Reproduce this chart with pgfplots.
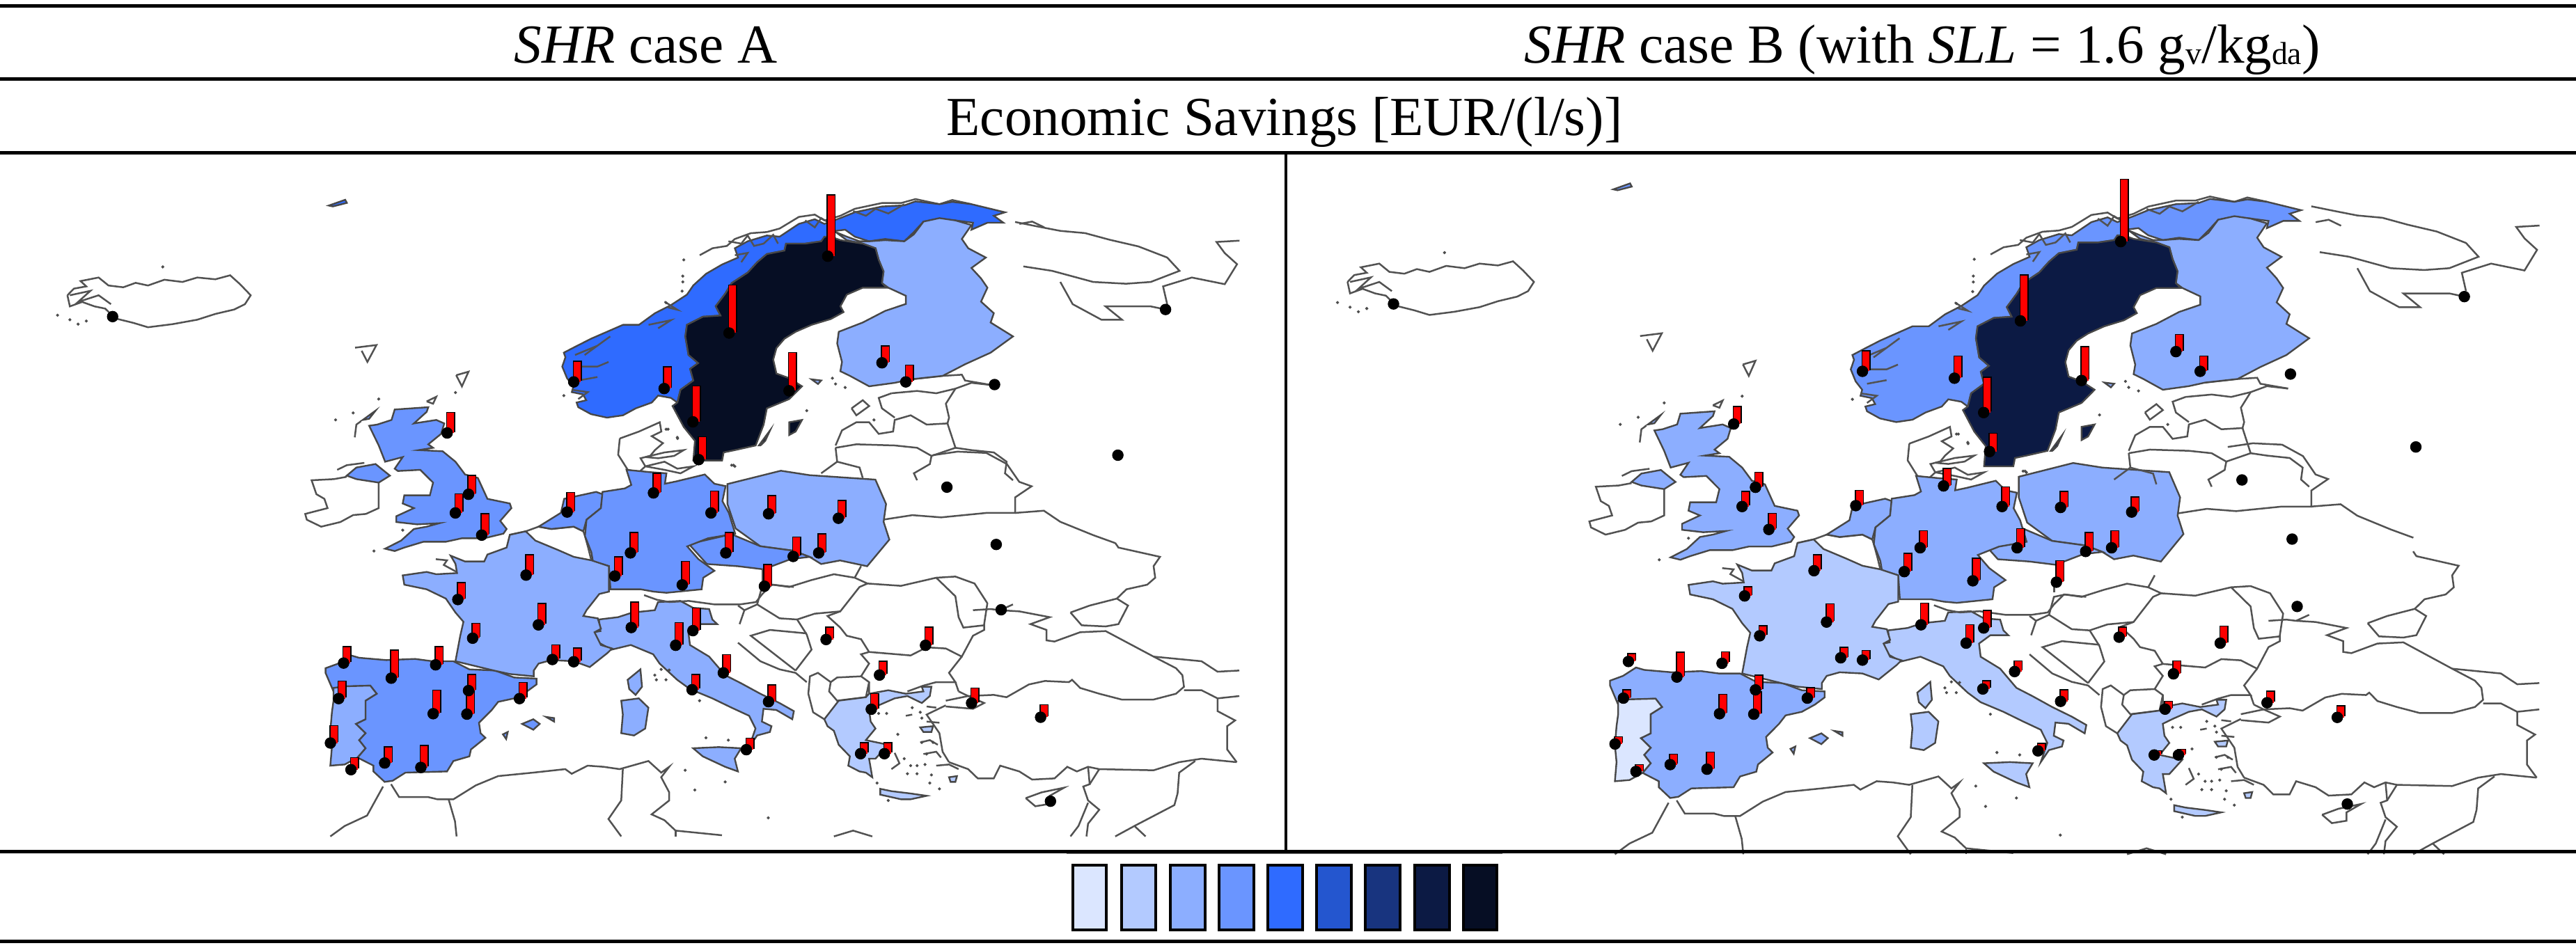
\documentclass[border=0pt]{standalone}
\usepackage{fontspec}
\setmainfont{Liberation Serif}
\usepackage{pgfplots}
\usepackage{pgfplotstable}
\pgfplotsset{compat=1.18}
\definecolor{c1}{HTML}{DBE6FF}\definecolor{c2}{HTML}{B3CAFF}\definecolor{c3}{HTML}{8CAEFF}
\definecolor{c4}{HTML}{6A95FF}\definecolor{c5}{HTML}{2F6BFF}\definecolor{c6}{HTML}{2456CF}
\definecolor{c7}{HTML}{18347F}\definecolor{c8}{HTML}{0C1A44}\definecolor{c9}{HTML}{060E24}
% panel A
\colorlet{NORa}{c5}\colorlet{SWEa}{c9}\colorlet{FINa}{c3}\colorlet{UKa}{c4}\colorlet{NEDa}{c4}\colorlet{GERa}{c4}
\colorlet{POLa}{c3}\colorlet{CZEa}{c4}\colorlet{FRAa}{c3}\colorlet{ITAa}{c3}\colorlet{SPAa}{c4}\colorlet{PORa}{c3}\colorlet{GREa}{c2}
% panel B
\colorlet{NORb}{c4}\colorlet{SWEb}{c8}\colorlet{FINb}{c3}\colorlet{UKb}{c3}\colorlet{NEDb}{c3}\colorlet{GERb}{c3}
\colorlet{POLb}{c3}\colorlet{CZEb}{c3}\colorlet{FRAb}{c2}\colorlet{ITAb}{c2}\colorlet{SPAb}{c3}\colorlet{PORb}{c1}\colorlet{GREb}{c2}
\pgfplotstableread{
x y hA hB
1007 232 137 135
887 405 107 99
960 535 85 73
843 605 80 76
850 690 50 39
808 530 48 47
698 515 45 44
1073 472 37 36
1102 515 37 32
544 630 45 37
570 768 41 32
554 810 42 32
586 860 47 34
690 808 43 32
795 765 43 37
865 810 48 42
935 812 40 34
1020 822 39 32
767 900 45 36
883 900 45 41
965 908 43 40
996 900 42 36
748 952 42 39
830 972 52 48
930 975 48 46
640 950 45 34
557 1005 37 19
655 1062 47 39
575 1092 32 21
672 1140 32 22
698 1145 30 20
768 1068 56 46
843 1075 50 37
822 1108 50 39
880 1170 40 22
1005 1095 27 21
1126 1108 40 36
1070 1175 30 27
1060 1252 34 16
1182 1238 33 24
1266 1270 27 24
842 1208 33 17
935 1235 37 24
908 1343 25 15
1047 1352 24 8
1076 1352 24 11
418 1148 36 16
476 1182 62 53
530 1152 40 24
412 1228 38 17
632 1228 35 22
570 1210 35 31
527 1262 52 41
568 1263 58 48
402 1328 38 15
427 1388 26 14
468 1373 35 22
512 1383 48 36
}\pinstab
\pgfplotstableread{
x y
137 368
1418 352
1210 521
1360 680
1152 752
1212 881
1218 1028
1278 1459
}\dotstab
\newcommand\ctry[2]{\addplot[fill=#1,draw=black!72,line width=0.24mm] coordinates {#2} -- cycle;}
\newcommand\bd[1]{\addplot[draw=black!68,line width=0.25mm,mark=none] coordinates {#1};}
\newcommand\spk[1]{\addplot[only marks,mark=*,mark size=0.14mm,black!70,mark options={draw=none}] coordinates {#1};}
% ---- outlying lines and Poland / Czechia, in whole-panel units
\newcommand\mapZ[1]{%
\bd{(82,320)(90,305)(105,300)(98,288)(120,280)(132,298)(150,302)(165,292)(180,298)(200,285)(222,290)(240,280)(262,284)(280,275)(292,295)(305,320)(298,340)(285,352)(262,362)(240,375)(210,385)(180,392)(162,382)(140,372)(128,350)(115,345)(100,335)(85,345)(82,320)}
\bd{(85,320)(110,310)(95,335)(120,320)(135,340)}
\spk{(70,365)(85,375)(95,385)(105,378)(198,256)}
\bd{(1235,155)(1262,165)(1290,175)(1320,180)(1350,195)(1385,210)(1420,235)(1435,265)(1400,290)(1370,294)(1330,290)(1280,265)(1245,255)}
\bd{(1290,290)(1305,340)(1340,375)(1365,375)(1345,345)(1400,345)(1418,352)}
\bd{(1420,340)(1415,300)(1450,280)(1490,295)(1505,250)(1490,225)(1480,200)(1508,197)}
\bd{(1135,680)(1165,672)(1200,675)(1225,700)(1240,740)(1255,750)(1235,775)(1235,810)(1200,810)(1145,820)(1110,815)(1075,825)}
\bd{(1235,810)(1270,805)(1290,830)(1330,860)(1357,878)}
\bd{(432,438)(458,432)(447,470)(440,445)}
\bd{(555,500)(570,492)(562,525)(555,500)}
\ctry{NOR#1}{(400,118)(420,105)(422,112)(405,120)}
\ctry{POL#1}{(885,745)(950,715)(985,725)(1065,735)(1078,790)(1075,830)(1082,870)(1055,930)(1022,917)(999,925)(985,909)(965,895)(925,885)(895,845)(885,790)}
\ctry{CZE#1}{(838,880)(890,858)(925,885)(965,895)(985,909)(962,914)(929,937)(898,930)(860,925)}
}
% ---- Scandinavia
\newcommand\mapS[1]{%
\bd{(490,350)(530,320)(575,310)(600,280)(650,255)(700,250)(740,235)(800,185)(850,175)(880,200)(930,180)(975,150)(1060,125)(1120,125)(1165,108)(1240,130)(1280,112)(1340,130)}
\bd{(240,1140)(300,1110)(365,1070)(370,1110)(340,1130)(375,1160)(350,1190)(335,1215)(305,1225)(320,1260)(300,1285)(265,1275)(235,1210)(240,1140)}
\bd{(320,1220)(380,1200)(440,1190)(410,1215)(360,1225)(320,1220)}\bd{(320,1260)(380,1240)(420,1270)(470,1260)(430,1290)(380,1275)(320,1260)}
\bd{(1150,885)(1250,870)(1310,865)(1320,890)(1405,910)}
\bd{(1090,945)(1170,935)(1230,945)(1290,925)(1340,900)(1405,910)}
\bd{(1290,925)(1260,990)(1270,1050)(1265,1075)(1200,1080)(1150,1040)(1100,1060)(1095,1110)(1050,1120)(1020,1070)(980,1070)(935,1105)(915,1170)}
\bd{(1090,945)(1050,965)(1060,1010)(1100,1050)}\bd{(965,1010)(1000,975)(1020,1000)(980,1040)(965,1010)}
\bd{(915,1180)(980,1165)(1100,1170)(1170,1180)(1215,1215)(1290,1180)(1265,1075)}
\bd{(915,1180)(920,1240)(990,1265)(1000,1310)}\bd{(920,1240)(870,1290)}
\bd{(1215,1215)(1210,1250)(1160,1290)(1170,1320)}
\bd{(1290,1180)(1340,1190)(1410,1200)(1450,1240)(1445,1290)(1470,1320)}
\bd{(1490,215)(1530,205)(1568,230)}
\spk{(440,370)(437,440)(437,465)(435,505)(385,555)(65,955)(590,1255)(600,1260)(825,1020)(385,1100)(420,1135)(905,880)(915,905)(945,920)(1035,1060)}
\ctry{NOR#1}{(200,1050)(150,1035)(110,1005)(105,985)(135,975)(125,950)(90,940)(95,915)(75,880)(60,830)(70,790)(65,770)(100,745)(150,710)(200,680)(250,650)(300,650)(350,600)(400,565)(450,520)(470,480)(510,430)(560,390)(610,360)(600,320)(640,290)(700,265)(740,270)(800,215)(850,195)(880,215)(930,190)(975,165)(1060,140)(1130,135)(1165,118)(1240,130)(1280,120)(1340,130)(1400,150)(1445,165)(1410,180)(1440,210)(1390,210)(1340,240)(1345,210)(1290,200)(1230,195)(1190,205)(1160,250)(1130,290)(1070,280)(1020,290)(975,270)(945,240)(915,245)(900,270)(870,290)(820,300)(760,300)(755,330)(700,345)(670,380)(640,425)(590,470)(570,515)(540,570)(555,610)(500,615)(450,650)(445,700)(455,780)(485,815)(460,840)(470,890)(430,930)(420,985)(400,965)(360,955)(340,985)(290,1010)(250,1040)}
\bd{(580,290)(620,300)(640,265)(660,310)(690,300)(720,262)(735,300)}
\bd{(820,200)(850,230)(870,190)(900,215)}
\bd{(970,160)(1010,180)(1040,150)(1080,170)(1130,130)}
\bd{(600,350)(640,340)(620,380)}
\bd{(100,780)(170,740)(130,780)(210,700)}
\bd{(110,830)(170,830)(205,810)}\bd{(110,890)(170,875)}\bd{(90,930)(140,940)(110,970)}
\bd{(390,575)(420,585)(380,550)}\bd{(330,650)(400,630)(360,665)}
\ctry{FIN#1}{(915,250)(950,270)(990,290)(1020,290)(1070,285)(1130,290)(1160,260)(1190,205)(1240,190)(1290,200)(1340,220)(1310,280)(1330,320)(1385,360)(1340,405)(1370,450)(1390,490)(1370,550)(1410,600)(1400,640)(1470,700)(1400,770)(1320,820)(1250,870)(1150,885)(1100,900)(1020,915)(960,870)(930,850)(935,810)(920,730)(925,680)(1000,640)(1070,590)(1135,560)(1135,525)(1080,490)(1060,470)(1065,420)(1050,370)(1040,320)(1000,300)(950,285)}
\ctry{SWE#1}{(880,270)(900,270)(930,285)(1000,300)(1040,320)(1050,370)(1065,420)(1060,470)(1075,490)(1000,490)(950,520)(930,570)(940,595)(900,625)(840,650)(790,680)(755,710)(730,750)(720,800)(730,860)(770,880)(810,915)(770,970)(700,1010)(690,1080)(665,1170)(600,1190)(565,1200)(560,1235)(470,1235)(475,1150)(440,1090)(405,1000)(420,985)(430,930)(470,890)(460,840)(485,815)(455,780)(445,700)(450,650)(500,615)(555,610)(540,570)(570,515)(590,470)(640,425)(670,380)(700,345)(755,330)(760,300)(820,300)(870,290)}
\ctry{SWE#1}{(770,1070)(810,1060)(790,1110)(770,1125)}
\ctry{SWE#1}{(675,1170)(710,1105)(695,1150)(680,1170)}
\ctry{FIN#1}{(840,885)(870,890)(860,905)}
}
% ---- British Isles, Benelux, Germany, France
\newcommand\mapW[1]{%
\bd{(140,345)(170,325)(225,315)}
\bd{(270,400)(270,510)(230,535)(190,540)(150,570)(90,590)(45,560)(40,535)(110,510)(100,470)(75,450)(60,390)(130,385)(170,375)}
\bd{(680,625)(730,610)(770,590)(810,600)(880,590)(910,610)(915,630)(925,680)(935,735)}
\bd{(1100,885)(1140,905)(1180,915)(1240,910)(1320,925)(1400,925)(1450,915)(1470,880)(1500,840)(1568,850)}
\bd{(1470,770)(1470,830)}\bd{(195,205)(200,150)(215,135)}\bd{(420,50)(450,30)(440,60)(420,50)}
\spk{(190,100)(135,130)(270,40)(510,12)(255,695)(345,605)(1175,170)(1205,210)(1380,325)}
\ctry{UK#1}{(320,85)(425,75)(420,95)(380,145)(450,130)(475,145)(465,190)(425,235)(440,250)(395,260)(470,265)(510,310)(540,365)(580,380)(610,470)(680,490)(685,510)(650,565)(670,600)(660,620)(600,640)(530,640)(480,655)(410,655)(350,680)(320,695)(290,685)(340,650)(380,600)(420,590)(460,575)(390,580)(325,570)(325,545)(380,510)(345,490)(350,455)(430,455)(440,400)(400,345)(330,350)(320,340)(345,290)(290,310)(270,240)(240,155)(265,150)(310,130)}
\ctry{UK#1}{(220,130)(260,90)(240,125)}
\ctry{UK#1}{(170,370)(200,335)(260,320)(305,370)(270,400)(200,385)}
\ctry{NED#1}{(770,590)(840,530)(850,470)(950,440)(970,450)(965,510)(920,560)(910,610)(880,590)(810,600)}
\ctry{GER#1}{(1045,345)(1120,355)(1170,360)(1165,405)(1200,395)(1290,365)(1320,405)(1355,415)(1345,480)(1365,530)(1385,620)(1300,640)(1235,675)(1270,730)(1320,780)(1285,810)(1280,860)(1170,875)(1130,870)(1090,860)(995,860)(990,760)(940,740)(935,700)(915,630)(920,560)(965,510)(970,440)(1040,425)(1060,410)}
\ctry{FRA#1}{(680,625)(730,610)(760,650)(830,690)(880,720)(935,735)(990,760)(990,870)(960,880)(920,950)(910,975)(955,985)(965,1030)(945,1045)(965,1100)(1000,1115)(985,1135)(930,1195)(880,1170)(810,1165)(770,1180)(755,1210)(755,1235)(680,1225)(630,1210)(510,1170)(525,1060)(535,1000)(510,960)(480,900)(420,860)(350,840)(345,800)(420,785)(450,795)(515,790)(510,750)(495,715)(540,740)(600,740)(610,710)(670,680)}
}
% ---- Iberia, Italy, North Africa
\newcommand\mapM[1]{%
\bd{(265,1040)(290,1095)(380,1095)(410,1105)(460,1105)(530,1045)(600,1005)(710,990)(810,975)(830,995)(880,960)(930,965)(980,975)(1070,940)(1110,990)(1135,965)(1110,1010)(1135,1075)(1135,1110)(1080,1170)(1120,1195)(1155,1240)(1300,1260)}
\bd{(240,1050)(190,1175)(120,1220)(75,1265)}\bd{(445,1105)(465,1200)(470,1265)}
\bd{(990,975)(985,1110)(945,1190)(985,1265)}\bd{(1155,1240)(1155,1265)}
\bd{(405,70)(440,75)(430,95)(470,125)}
\spk{(1090,570)(1110,545)(1095,590)(1125,590)(1135,548)(1230,680)(1250,840)(1320,850)(1185,980)(1310,1030)(1215,1065)(1445,1185)}
\ctry{SPA#1}{(60,540)(100,520)(140,485)(165,495)(250,505)(340,500)(395,510)(460,510)(510,545)(590,550)(650,580)(720,585)(720,610)(690,640)(650,670)(600,685)(580,720)(540,775)(545,820)(560,840)(515,890)(510,920)(460,940)(440,985)(310,990)(270,1025)(245,1030)(210,985)(210,960)(160,925)(185,885)(165,850)(185,820)(155,780)(185,760)(185,680)(220,650)(200,615)(115,620)(85,640)(60,560)}
\ctry{POR#1}{(85,625)(120,618)(200,615)(220,650)(185,680)(185,760)(155,780)(185,820)(165,850)(185,885)(160,925)(120,955)(75,960)(80,880)(75,810)(80,730)(85,680)}
\ctry{SPA#1}{(675,780)(710,760)(730,780)(710,805)}
\ctry{SPA#1}{(750,750)(775,755)(775,770)}
\ctry{SPA#1}{(615,825)(630,815)(625,845)}
\ctry{FRA#1}{(1005,590)(1045,545)(1050,620)(1030,655)(1010,630)}
\ctry{ITA#1}{(985,680)(1040,670)(1070,710)(1060,800)(1025,830)(985,820)(990,740)}
\ctry{ITA#1}{(915,330)(975,320)(1020,300)(1090,290)(1100,255)(1170,250)(1210,280)(1260,285)(1270,330)(1285,350)(1230,350)(1195,385)(1200,440)(1260,490)(1310,570)(1360,605)(1420,650)(1480,690)(1525,725)(1520,760)(1470,720)(1430,715)(1425,770)(1455,790)(1450,815)(1410,830)(1395,860)(1385,880)(1405,800)(1385,745)(1330,710)(1270,670)(1200,630)(1160,590)(1105,520)(1085,480)(1015,440)(955,460)(915,430)(900,385)(920,380)}
\ctry{ITA#1}{(1210,885)(1290,880)(1360,885)(1340,930)(1350,985)(1310,965)(1240,920)}
}
% ---- Balkans, Black Sea, Turkey
\newcommand\mapE[1]{%
\bd{(110,180)(160,190)(230,160)(300,135)(365,150)(405,175)(380,190)(320,295)(240,305)(185,330)(130,325)(60,265)(75,190)(110,180)}
\bd{(365,150)(385,100)}
\bd{(405,175)(510,185)(620,150)(680,145)(740,175)(780,260)(770,350)(770,375)(735,400)(700,490)(650,455)(590,450)(540,485)(410,470)(385,415)(340,400)(320,365)(280,315)(320,295)}
\bd{(620,150)(680,230)(690,320)(705,365)(770,355)}\bd{(735,290)(790,285)(820,290)(860,265)}
\bd{(700,490)(660,560)(680,600)(620,600)(580,615)(530,640)}\bd{(410,650)(410,600)(385,575)(410,520)(385,480)(410,470)}
\bd{(185,330)(215,395)(230,460)(180,550)}
\bd{(385,575)(310,580)(290,600)(250,560)(225,575)(220,650)(235,730)(270,760)}
\bd{(290,600)(285,640)(310,680)(400,665)(410,600)}
\bd{(180,550)(40,400)(100,375)(215,390)}
\bd{(0,430)(70,510)(130,545)(180,560)(215,600)}
\bd{(60,265)(20,290)(0,270)}\bd{(20,290)(5,350)}
\bd{(690,640)(720,660)(800,655)(840,665)(910,610)(960,595)(1035,600)(1045,590)(1070,625)(1130,650)(1200,675)(1300,675)(1370,650)(1395,620)(1390,570)(1370,540)(1300,490)(1150,380)(1070,385)(990,425)(965,420)(965,375)(915,350)(975,320)(880,295)(820,290)}
\bd{(680,600)(690,640)}
\bd{(1040,300)(1100,270)(1185,240)(1220,270)(1190,350)(1150,360)(1075,355)(1040,300)}
\bd{(1185,240)(1215,200)(1280,180)(1305,150)(1300,100)(1320,60)(1190,20)(1180,0)}
\bd{(1300,490)(1450,510)(1500,555)(1568,550)}\bd{(1395,635)(1450,635)(1500,670)(1568,660)}
\bd{(1500,670)(1500,725)(1555,765)(1530,790)(1530,890)(1560,945)}
\bd{(660,945)(720,975)(750,1015)(800,1015)(820,960)(880,985)(920,1020)(990,1015)(1030,965)(1060,985)(1095,965)(1130,975)(1300,980)(1380,945)(1450,930)(1560,945)}
\bd{(660,945)(640,900)(630,820)(590,740)(650,700)}
\bd{(650,680)(720,660)(770,690)(735,715)(650,705)}
\bd{(900,1100)(950,1075)(1020,1055)(975,1090)(975,1125)(930,1135)(900,1100)}
\bd{(1095,965)(1100,1040)(1080,1050)(1095,1110)(1130,1150)(1095,1210)(1090,1265)}
\bd{(1130,975)(1100,1040)}\bd{(1095,1120)(1065,1220)(1040,1265)}
\bd{(1430,940)(1380,990)(1375,1080)(1365,1130)(1240,1220)(1180,1265)}\bd{(1240,1220)(1275,1265)}
\bd{(300,1265)(360,1240)(420,1265)}
\bd{(570,860)(600,850)(625,870)}\bd{(580,910)(620,900)(635,925)}\bd{(620,960)(660,955)(690,975)}\bd{(480,975)(505,950)(490,905)}
\bd{(525,745)(545,740)}\bd{(590,705)(620,710)}\bd{(630,775)(590,770)}
\spk{(545,710)(570,730)(575,755)(575,860)(610,860)(590,910)(540,960)(560,960)(585,955)(530,995)(560,995)(605,1000)(600,1035)(630,1060)(470,1110)(435,1035)(520,930)(440,735)(465,735)(500,825)}
\ctry{GRE#1}{(270,760)(315,680)(400,665)(410,650)(470,635)(525,650)(580,640)(575,620)(605,620)(600,660)(575,690)(530,660)(490,670)(440,700)(410,720)(415,770)(430,800)(400,850)(470,870)(430,930)(410,930)(420,1010)(400,990)(380,985)(345,960)(350,920)(315,870)(300,810)(280,790)}
\ctry{GRE#1}{(445,1060)(480,1070)(540,1080)(590,1090)(540,1105)(510,1105)(445,1085)}
\ctry{GRE#1}{(570,795)(610,790)(605,815)(580,815)}
\ctry{GRE#1}{(660,1010)(685,1005)(680,1030)(665,1030)}
}
\newcommand\drawpins[1]{%
\addplot[only marks,mark=*,mark size=0.75mm,black,mark options={draw=black}] table[x=x,y=y] {\dotstab};
\addplot[only marks,mark=*,mark size=0.75mm,black,mark options={draw=black}] table[x=x,y=y] {\pinstab};
\addplot[only marks,mark=none,error bars/.cd,y dir=minus,y explicit,error mark=none,
  error bar style={line width=1.3mm,black,xshift=0.5mm,yshift=0.15mm}] table[x=x,y=y,y error=h#1] {\pinstab};
\addplot[only marks,mark=none,error bars/.cd,y dir=minus,y explicit,error mark=none,
  error bar style={line width=1.0mm,red,xshift=0.5mm}] table[x=x,y=y,y error=h#1] {\pinstab};
}
\pgfplotsset{bare/.style={scale only axis,axis lines=none,ticks=none,anchor=south west},
 crop/.style={bare,clip=false,xmin=0,xmax=1568,ymin=0,ymax=1320,y dir=reverse},
 rule/.style={black,line width=0.5mm,mark=none},
 swatch/.style={fill=#1,draw=black,line width=0.45mm}}
\newcommand\layerA[3]{\begin{axis}[crop,width=72mm,height=44mm,at={({#1*0.1mm},{(1361-#2-440)*0.1mm})}]#3{a}\end{axis}}
\newcommand\layerB[3]{\begin{axis}[crop,width=73.22mm,height=45.41mm,at={({(1837+1.017*#1)*0.1mm},{(1361-1.032*(#2+440)+12.8)*0.1mm})}]#3{b}\end{axis}}
\begin{document}
\begin{tikzpicture}
\path[use as bounding box] (0,0) rectangle (370mm,136.1mm);
% left map
\begin{axis}[bare,clip=false,at={(0mm,14.1mm)},width=185mm,height=100mm,xmin=0,xmax=1567,ymin=0,ymax=1567,y dir=reverse]
\mapZ{a}
\end{axis}
\layerA{1060}{780}{\mapE}
\layerA{780}{250}{\mapS}
\layerA{440}{780}{\mapM}
\layerA{420}{560}{\mapW}
\begin{axis}[bare,at={(0mm,14.1mm)},width=185mm,height=100mm,xmin=0,xmax=1567,ymin=0,ymax=1567,y dir=reverse]
\drawpins{A}
\end{axis}
% right map
\begin{axis}[bare,clip=false,at={(185mm,14.1mm)},width=185mm,height=100mm,xmin=10.8,xmax=1551.6,ymin=39,ymax=1557.5,y dir=reverse]
\mapZ{b}
\end{axis}
\layerB{1060}{780}{\mapE}
\layerB{780}{250}{\mapS}
\layerB{440}{780}{\mapM}
\layerB{420}{560}{\mapW}
\begin{axis}[bare,at={(185mm,14.1mm)},width=185mm,height=100mm,xmin=10.8,xmax=1551.6,ymin=39,ymax=1557.5,y dir=reverse]
\drawpins{B}
\end{axis}
% table frame, headings, legend
\begin{axis}[bare,at={(0,0)},width=370mm,height=136.1mm,xmin=0,xmax=3700,ymin=0,ymax=1361,y dir=reverse,clip=false]
\addplot[rule] coordinates {(0,8)(3700,8)};
\addplot[rule] coordinates {(0,113)(3700,113)};
\addplot[rule] coordinates {(0,219)(3700,219)};
\addplot[rule] coordinates {(0,1223)(3700,1223)};
\addplot[rule] coordinates {(0,1352)(3700,1352)};
\addplot[gray,line width=0.1mm,mark=none] coordinates {(1532,1226)(2158,1226)};
\addplot[black,line width=0.4mm,mark=none] coordinates {(1847,219)(1847,1223)};
\addplot[swatch=c1] coordinates {(1541,1243)(1589,1243)(1589,1336)(1541,1336)} -- cycle;
\addplot[swatch=c2] coordinates {(1611,1243)(1660,1243)(1660,1336)(1611,1336)} -- cycle;
\addplot[swatch=c3] coordinates {(1681,1243)(1731,1243)(1731,1336)(1681,1336)} -- cycle;
\addplot[swatch=c4] coordinates {(1751,1243)(1801,1243)(1801,1336)(1751,1336)} -- cycle;
\addplot[swatch=c5] coordinates {(1821,1243)(1871,1243)(1871,1336)(1821,1336)} -- cycle;
\addplot[swatch=c6] coordinates {(1891,1243)(1941,1243)(1941,1336)(1891,1336)} -- cycle;
\addplot[swatch=c7] coordinates {(1961,1243)(2011,1243)(2011,1336)(1961,1336)} -- cycle;
\addplot[swatch=c8] coordinates {(2032,1243)(2082,1243)(2082,1336)(2032,1336)} -- cycle;
\addplot[swatch=c9] coordinates {(2102,1243)(2150,1243)(2150,1336)(2102,1336)} -- cycle;
\node[anchor=base west,inner sep=0pt,font=\fontsize{22.5pt}{26pt}\selectfont] at (axis cs:738,90) {\textit{SHR} case A};
\node[anchor=base west,inner sep=0pt,font=\fontsize{22.5pt}{26pt}\selectfont] at (axis cs:2189,90) {\textit{SHR} case B (with \textit{SLL} = 1.6 g{\fontsize{13pt}{13pt}\selectfont\raisebox{-0.8pt}{v}}/kg{\fontsize{13pt}{13pt}\selectfont\raisebox{-0.8pt}{da}})};
\node[anchor=base west,inner sep=0pt,font=\fontsize{22.5pt}{26pt}\selectfont] at (axis cs:1359,194) {Economic Savings [EUR/(l/s)]};
\end{axis}
\end{tikzpicture}
\end{document}
